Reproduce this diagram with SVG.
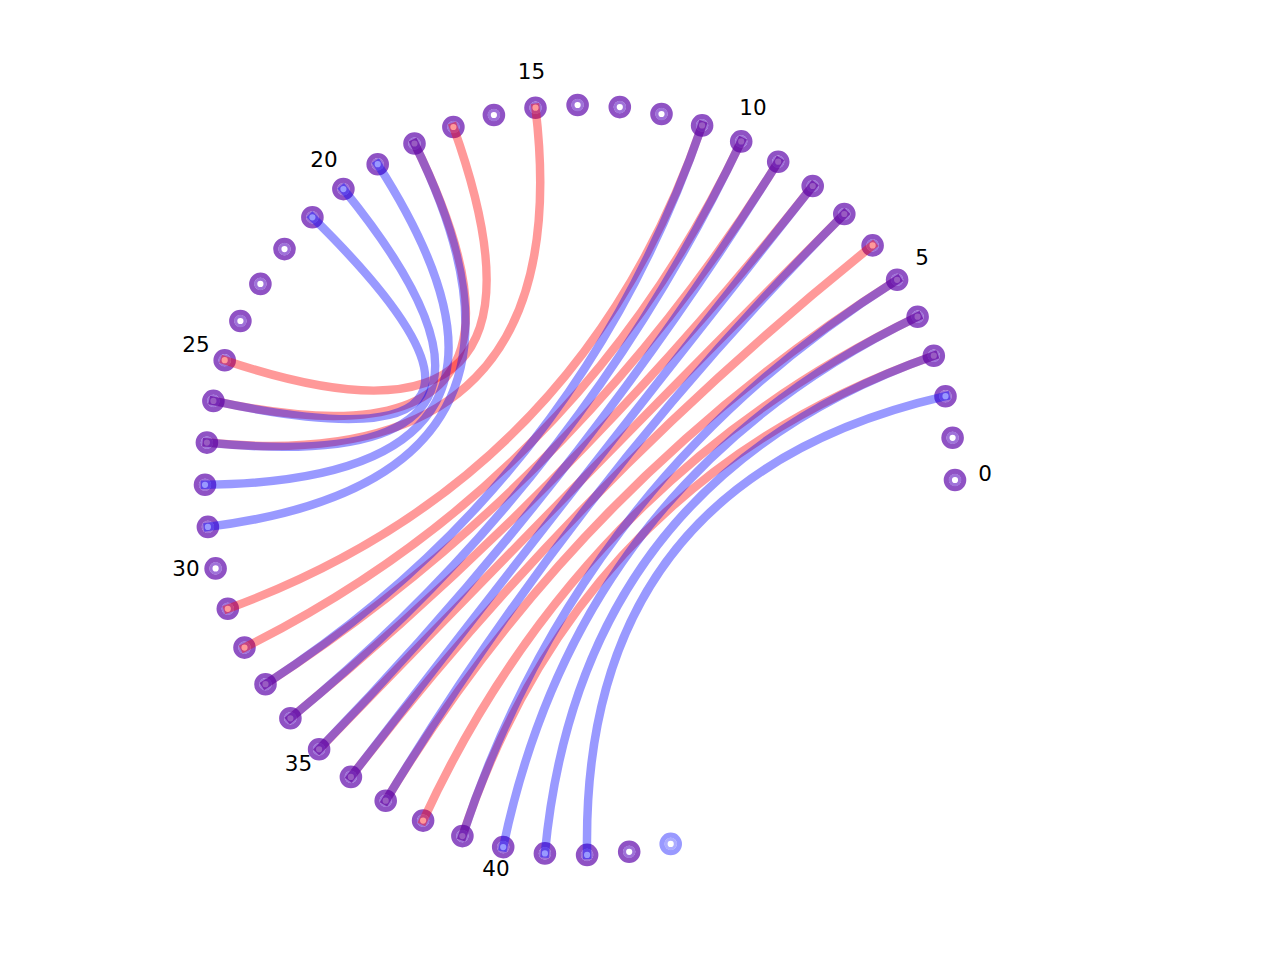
<svg xmlns="http://www.w3.org/2000/svg" xmlns:xlink="http://www.w3.org/1999/xlink" width="1280" height="960" viewBox="0 0 1280 960">
<style>
.bg{fill:#ffffff}
.o{fill:none;stroke:#8f52c4;stroke-width:5.2}
.i{fill:none;stroke:#9f72d9;stroke-width:3.2}
.ob{fill:none;stroke:#9999ff;stroke-width:5.2}
.ib{fill:none;stroke:#acacff;stroke-width:3.2}
.e{fill:none;stroke-width:8.5;stroke-linecap:square;stroke-opacity:0.4}
.r{stroke:#ff0000}
.b{stroke:#0000ff}
.lbl{font-family:"DejaVu Sans",sans-serif;font-size:21.5px;fill:#000000;text-anchor:middle}
</style>
<defs>
<g id="v"><circle r="8.7" class="o"/><circle r="4.7" class="i"/></g>
<g id="vb"><circle r="8.7" class="ob"/><circle r="4.7" class="ib"/></g>
</defs>
<rect class="bg" x="0" y="0" width="1280" height="960"/>
<g id="nodes">
<g id="node-0"><use xlink:href="#v" x="955" y="480"/></g>
<g id="node-1"><use xlink:href="#v" x="952.6" y="437.8"/></g>
<g id="node-2"><use xlink:href="#v" x="945.5" y="396.2"/></g>
<g id="node-3"><use xlink:href="#v" x="933.8" y="355.7"/></g>
<g id="node-4"><use xlink:href="#v" x="917.6" y="316.7"/></g>
<g id="node-5"><use xlink:href="#v" x="897.1" y="279.8"/></g>
<g id="node-6"><use xlink:href="#v" x="872.6" y="245.4"/></g>
<g id="node-7"><use xlink:href="#v" x="844.3" y="214.0"/></g>
<g id="node-8"><use xlink:href="#v" x="812.7" y="186.0"/></g>
<g id="node-9"><use xlink:href="#v" x="778.2" y="161.7"/></g>
<g id="node-10"><use xlink:href="#v" x="741.2" y="141.4"/></g>
<g id="node-11"><use xlink:href="#v" x="702.1" y="125.4"/></g>
<g id="node-12"><use xlink:href="#v" x="661.5" y="114.0"/></g>
<g id="node-13"><use xlink:href="#v" x="619.8" y="107.1"/></g>
<g id="node-14"><use xlink:href="#v" x="577.6" y="105.0"/></g>
<g id="node-15"><use xlink:href="#v" x="535.5" y="107.7"/></g>
<g id="node-16"><use xlink:href="#v" x="493.9" y="115.0"/></g>
<g id="node-17"><use xlink:href="#v" x="453.4" y="127.0"/></g>
<g id="node-18"><use xlink:href="#v" x="414.5" y="143.5"/></g>
<g id="node-19"><use xlink:href="#v" x="377.7" y="164.2"/></g>
<g id="node-20"><use xlink:href="#v" x="343.4" y="189.1"/></g>
<g id="node-21"><use xlink:href="#v" x="312.4" y="217.3"/></g>
<g id="node-22"><use xlink:href="#v" x="284.5" y="249.1"/></g>
<g id="node-23"><use xlink:href="#v" x="260.4" y="283.9"/></g>
<g id="node-24"><use xlink:href="#v" x="240.4" y="321.0"/></g>
<g id="node-25"><use xlink:href="#v" x="224.7" y="360.2"/></g>
<g id="node-26"><use xlink:href="#v" x="213.4" y="400.9"/></g>
<g id="node-27"><use xlink:href="#v" x="206.9" y="442.6"/></g>
<g id="node-28"><use xlink:href="#v" x="205.0" y="484.8"/></g>
<g id="node-29"><use xlink:href="#v" x="207.9" y="526.9"/></g>
<g id="node-30"><use xlink:href="#v" x="215.6" y="568.4"/></g>
<g id="node-31"><use xlink:href="#v" x="227.8" y="608.8"/></g>
<g id="node-32"><use xlink:href="#v" x="244.5" y="647.6"/></g>
<g id="node-33"><use xlink:href="#v" x="265.5" y="684.2"/></g>
<g id="node-34"><use xlink:href="#v" x="290.4" y="718.3"/></g>
<g id="node-35"><use xlink:href="#v" x="319.1" y="749.3"/></g>
<g id="node-36"><use xlink:href="#v" x="350.9" y="776.9"/></g>
<g id="node-37"><use xlink:href="#v" x="385.7" y="800.7"/></g>
<g id="node-38"><use xlink:href="#v" x="423.1" y="820.6"/></g>
<g id="node-39"><use xlink:href="#v" x="462.4" y="836.1"/></g>
<g id="node-40"><use xlink:href="#v" x="503.2" y="847.1"/></g>
<g id="node-41"><use xlink:href="#v" x="544.9" y="853.4"/></g>
<g id="node-42"><use xlink:href="#v" x="587.1" y="854.9"/></g>
<g id="node-43"><use xlink:href="#v" x="629.2" y="851.8"/></g>
<g id="node-44"><use xlink:href="#vb" x="670.7" y="843.9"/></g>
</g>
<g id="connectors">
<g id="red-edges">
<path class="e r" d="M933.8 355.7 Q580 480 462.4 836.1"/>
<path class="e r" d="M917.6 316.7 Q580 480 423.1 820.6"/>
<path class="e r" d="M897.1 279.8 Q580 480 385.7 800.7"/>
<path class="e r" d="M872.6 245.4 Q580 480 350.9 776.9"/>
<path class="e r" d="M844.3 214.0 Q580 480 319.1 749.3"/>
<path class="e r" d="M812.7 186.0 Q580 480 290.4 718.3"/>
<path class="e r" d="M778.2 161.7 Q580 480 265.5 684.2"/>
<path class="e r" d="M741.2 141.4 Q580 480 244.5 647.6"/>
<path class="e r" d="M702.1 125.4 Q580 480 227.8 608.8"/>
<path class="e r" d="M535.5 107.7 Q580 480 206.9 442.6"/>
<path class="e r" d="M453.4 127.0 Q580 480 224.7 360.2"/>
<path class="e r" d="M414.5 143.5 Q580 480 213.4 400.9"/>
</g>
<g id="blue-edges">
<path class="e b" d="M945.5 396.2 Q580 480 587.1 854.9"/>
<path class="e b" d="M933.8 355.7 Q580 480 544.9 853.4"/>
<path class="e b" d="M917.6 316.7 Q580 480 503.2 847.1"/>
<path class="e b" d="M897.1 279.8 Q580 480 462.4 836.1"/>
<path class="e b" d="M844.3 214.0 Q580 480 385.7 800.7"/>
<path class="e b" d="M812.7 186.0 Q580 480 350.9 776.9"/>
<path class="e b" d="M778.2 161.7 Q580 480 319.1 749.3"/>
<path class="e b" d="M741.2 141.4 Q580 480 290.4 718.3"/>
<path class="e b" d="M702.1 125.4 Q580 480 265.5 684.2"/>
<path class="e b" d="M414.5 143.5 Q580 480 207.9 526.9"/>
<path class="e b" d="M377.7 164.2 Q580 480 205.0 484.8"/>
<path class="e b" d="M343.4 189.1 Q580 480 206.9 442.6"/>
<path class="e b" d="M312.4 217.3 Q580 480 213.4 400.9"/>
</g>
</g>
<g id="labels">
<text class="lbl" x="985" y="480.5">0</text>
<text class="lbl" x="922" y="264.5">5</text>
<text class="lbl" x="753" y="114.5">10</text>
<text class="lbl" x="531.5" y="78.5">15</text>
<text class="lbl" x="324" y="166.5">20</text>
<text class="lbl" x="196" y="351.5">25</text>
<text class="lbl" x="186" y="575.5">30</text>
<text class="lbl" x="298.5" y="770.5">35</text>
<text class="lbl" x="496" y="876">40</text>
</g>
</svg>
